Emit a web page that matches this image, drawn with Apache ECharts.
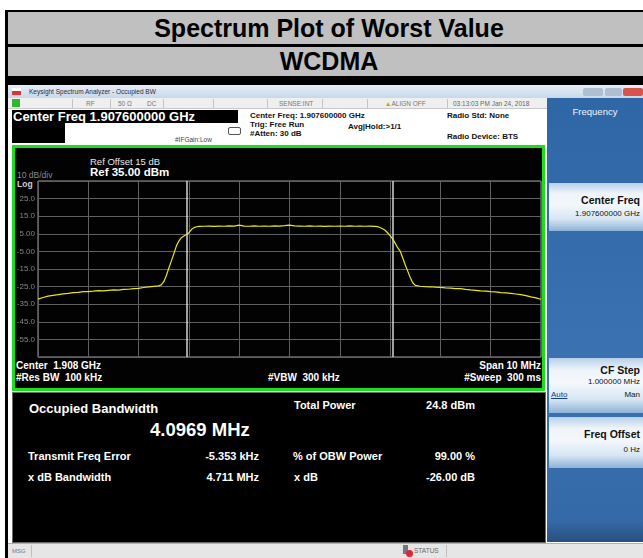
<!DOCTYPE html>
<html>
<head>
<meta charset="utf-8">
<title>Spectrum Plot of Worst Value</title>
<script src="https://cdn.jsdelivr.net/npm/echarts@6/dist/echarts.min.js"></script>
<style>
  body { margin:0; width:643px; height:558px; overflow:hidden; background:#fff; position:relative;
         font-family:"Liberation Sans", Arial, sans-serif; }
  .a { position:absolute; white-space:nowrap; line-height:1; }
  .blk { position:absolute; background:#000; }
  .row { position:absolute; left:8px; width:642px; background:#c0c0c0; font-weight:bold; color:#000;
         display:flex; align-items:center; justify-content:center; font-size:25px; }
  .w { color:#fff; font-weight:bold; }
  .sm { font-size:8px; color:#111; font-weight:bold; }
  .st { font-size:6.5px; color:#777; }
  .sep { position:absolute; top:99px; width:1px; height:9px; background:#c4c4c4; }
  .btn { position:absolute; left:549px; width:94px;
         background:linear-gradient(#b7d0e8 0%, #eef4fa 22%, #f4f8fc 45%, #d7e6f3 75%, #8db2d8 100%); }
  .bt { font-size:10.5px; font-weight:bold; color:#111; right:3px; }
  .bs { font-size:8px; color:#111; right:3px; }
</style>
</head>
<body>
<!-- report table -->
<div class="blk" style="left:5px;top:10px;width:3px;height:548px"></div>
<div class="blk" style="left:5px;top:10px;width:638px;height:2px"></div>
<div class="row" style="top:12px;height:32px">Spectrum Plot of Worst Value</div>
<div class="blk" style="left:8px;top:44px;width:635px;height:3px"></div>
<div class="row" style="top:47px;height:29px">WCDMA</div>
<div class="blk" style="left:8px;top:76px;width:635px;height:9px"></div>

<!-- analyzer window title bar -->
<div class="a" style="left:8px;top:85px;width:635px;height:13px;background:linear-gradient(#e6eef7,#c8d8ea)"></div>
<div class="a" style="left:12px;top:88px;width:9px;height:7px;background:linear-gradient(#fff 45%,#d33 45%)"></div>
<div class="a" style="left:29px;top:88.5px;font-size:6.5px;color:#2a2a3a">Keysight Spectrum Analyzer - Occupied BW</div>
<div class="a" style="left:583px;top:88px;width:20px;height:8px;background:#aebfd3;border-radius:2px"></div>
<div class="a" style="left:605px;top:88px;width:17px;height:8px;background:#aebfd3;border-radius:2px"></div>
<div class="a" style="left:623px;top:88px;width:20px;height:8px;background:#d9534a;border-radius:2px"></div>

<!-- status strip -->
<div class="a" style="left:8px;top:98px;width:540px;height:10px;background:#efefef;border-bottom:1px solid #c8c8c8"></div>
<div class="a" style="left:12px;top:99px;width:8px;height:8px;background:#2fb52f"></div>
<div class="sep" style="left:72px"></div><div class="sep" style="left:110px"></div>
<div class="sep" style="left:163px"></div><div class="sep" style="left:213px"></div>
<div class="sep" style="left:267px"></div><div class="sep" style="left:322px"></div>
<div class="sep" style="left:367px"></div><div class="sep" style="left:447px"></div>
<div class="a st" style="left:86px;top:101px">RF</div>
<div class="a st" style="left:118px;top:101px">50 Ω</div>
<div class="a st" style="left:147px;top:101px">DC</div>
<div class="a st" style="left:279px;top:101px">SENSE:INT</div>
<div class="a st" style="left:385px;top:101px"><span style="color:#c9a000">▲</span>ALIGN OFF</div>
<div class="a st" style="left:453px;top:101px;color:#666">03:13:03 PM Jan 24, 2018</div>

<!-- settings area -->
<div class="a" style="left:8px;top:109px;width:4px;height:449px;background:#fff"></div>
<div class="blk" style="left:12px;top:110px;width:226px;height:13px"></div>
<div class="blk" style="left:12px;top:123px;width:53px;height:20px"></div>
<div class="a w" style="left:13px;top:110px;font-size:13px">Center Freq 1.907600000 GHz</div>
<div class="a" style="left:175px;top:137px;font-size:6.5px;color:#444">#IFGain:Low</div>
<div class="a" style="left:228px;top:127px;width:11px;height:6px;border:1px solid #555;border-radius:2px"></div>
<div class="a sm" style="left:250px;top:111.5px">Center Freq: 1.907600000 GHz</div>
<div class="a sm" style="left:250px;top:120.5px">Trig: Free Run</div>
<div class="a sm" style="left:348px;top:122.5px">Avg|Hold:&gt;1/1</div>
<div class="a sm" style="left:250px;top:129.5px">#Atten: 30 dB</div>
<div class="a sm" style="left:447px;top:111.5px">Radio Std: None</div>
<div class="a sm" style="left:447px;top:133px">Radio Device: BTS</div>

<!-- right soft-key panel -->
<div class="a" style="left:547px;top:98px;width:96px;height:444px;background:linear-gradient(#2f66a5,#3a72b2 60%,#356aa8 95%,#28507f)"></div>
<div class="a" style="left:547px;top:107px;width:96px;text-align:center;font-size:9.5px;color:#f2f6fb">Frequency</div>
<div class="btn" style="top:183px;height:48px"></div>
<div class="a bt" style="top:195px">Center Freq</div>
<div class="a bs" style="top:210px">1.907600000 GHz</div>
<div class="btn" style="top:358px;height:55px"></div>
<div class="a bt" style="top:365px">CF Step</div>
<div class="a bs" style="top:378px">1.000000 MHz</div>
<div class="a bs" style="top:391px;left:551px;right:auto;color:#163c8c;text-decoration:underline">Auto</div>
<div class="a bs" style="top:391px">Man</div>
<div class="btn" style="top:417px;height:51px"></div>
<div class="a bt" style="top:429px">Freq Offset</div>
<div class="a bs" style="top:446px">0 Hz</div>

<!-- trace window -->
<div class="a" style="left:12px;top:145px;width:527px;height:240px;background:#020202;border:3px solid #18e018"></div>
<div class="a" style="left:90px;top:157px;font-size:9.5px;color:#e8e8e8">Ref Offset 15 dB</div>
<div class="a w" style="left:90px;top:166.5px;font-size:11.5px">Ref 35.00 dBm</div>
<div class="a" style="left:17px;top:170.5px;font-size:8.5px;color:#8a8a8a">10 dB/div</div>
<div class="a" style="left:17px;top:180px;font-size:8.5px;color:#d0d0d0;font-weight:bold">Log</div>
<div class="a w" style="left:16px;top:361px;font-size:10px">Center&nbsp; 1.908 GHz</div>
<div class="a w" style="left:16px;top:373px;font-size:10px">#Res BW&nbsp; 100 kHz</div>
<div class="a w" style="left:268px;top:373px;font-size:10px">#VBW&nbsp; 300 kHz</div>
<div class="a w" style="right:102px;top:361px;font-size:10px">Span 10 MHz</div>
<div class="a w" style="right:102px;top:373px;font-size:10px">#Sweep&nbsp; 300 ms</div>

<!-- measurement results -->
<div class="a" style="left:12px;top:392px;width:532px;height:149px;background:#000;border:1px solid #6a6a6a"></div>
<div class="a w" style="left:29px;top:402px;font-size:13px">Occupied Bandwidth</div>
<div class="a w" style="left:150px;top:421px;font-size:18.5px">4.0969 MHz</div>
<div class="a w" style="left:294px;top:400px;font-size:11px">Total Power</div>
<div class="a w" style="right:168px;top:400px;font-size:11px">24.8 dBm</div>
<div class="a w" style="left:28px;top:451px;font-size:11px">Transmit Freq Error</div>
<div class="a w" style="right:384px;top:451px;font-size:11px">-5.353 kHz</div>
<div class="a w" style="left:293px;top:451px;font-size:11px">% of OBW Power</div>
<div class="a w" style="right:168px;top:451px;font-size:11px">99.00 %</div>
<div class="a w" style="left:28px;top:472px;font-size:11px">x dB Bandwidth</div>
<div class="a w" style="right:384px;top:472px;font-size:11px">4.711 MHz</div>
<div class="a w" style="left:294px;top:472px;font-size:11px">x dB</div>
<div class="a w" style="right:168px;top:472px;font-size:11px">-26.00 dB</div>

<!-- bottom status bar -->
<div class="a" style="left:8px;top:543px;width:635px;height:15px;background:#e6e6e6;border-top:1px solid #b0b0b0"></div>
<div class="a" style="left:12px;top:548px;font-size:6px;color:#777">MSG</div>
<div class="a" style="left:31px;top:545px;width:1px;height:12px;background:#c0c0c0"></div>
<div class="a" style="left:403px;top:545px;width:5px;height:9px;background:#777"></div>
<div class="a" style="left:406px;top:550px;width:7px;height:7px;border-radius:50%;background:#e0223a"></div>
<div class="a" style="left:414px;top:548px;font-size:6.5px;color:#666">STATUS</div>
<div class="a" style="left:446px;top:545px;width:1px;height:12px;background:#c0c0c0"></div>

<div id="main" style="position:absolute;left:0;top:0;width:643px;height:558px;"></div>
<script type="text/javascript">
    // frequency offset from centre 1.908 GHz, in MHz
    var freqMHz = [
        -5.0, -4.9, -4.8, -4.7, -4.6, -4.5, -4.4, -4.3, -4.2, -4.1,
        -4.0, -3.9, -3.8, -3.7, -3.6, -3.5, -3.4, -3.3, -3.2, -3.1,
        -3.0, -2.9, -2.8, -2.7, -2.6, -2.55, -2.5, -2.45, -2.4, -2.35,
        -2.3, -2.25, -2.2, -2.15, -2.1, -2.05, -2.0, -1.95, -1.9, -1.85,
        -1.8, -1.7, -1.6, -1.5, -1.4, -1.3, -1.2, -1.1, -1.0, -0.9,
        -0.8, -0.7, -0.6, -0.5, -0.4, -0.3, -0.2, -0.1, 0.0, 0.1,
        0.2, 0.3, 0.4, 0.5, 0.6, 0.7, 0.8, 0.9, 1.0, 1.1,
        1.2, 1.3, 1.4, 1.5, 1.6, 1.7, 1.75, 1.8, 1.85, 1.9,
        1.95, 2.0, 2.05, 2.1, 2.15, 2.2, 2.25, 2.3, 2.35, 2.4,
        2.45, 2.5, 2.55, 2.6, 2.7, 2.8, 2.9, 3.0, 3.1, 3.2,
        3.3, 3.4, 3.5, 3.6, 3.7, 3.8, 3.9, 4.0, 4.1, 4.2,
        4.3, 4.4, 4.5, 4.6, 4.7, 4.8, 4.9, 5.0
    ]
    // trace level, dBm
    var levelDbm = [
        -32.1, -31.2, -30.4, -30.0, -29.6, -29.1, -28.9, -28.4, -28.3, -27.9,
        -27.8, -27.6, -27.3, -27.4, -27.1, -26.9, -27.0, -26.6, -26.5, -26.1,
        -26.0, -25.5, -25.2, -24.9, -24.6, -24.0, -22.2, -18.8, -14.6, -10.5,
        -6.4, -2.0, 0.9, 2.8, 3.8, 4.6, 5.6, 7.4, 8.5, 9.0,
        9.2, 9.3, 9.4, 9.2, 9.4, 9.3, 9.5, 9.4, 9.9, 9.4,
        9.3, 9.5, 9.3, 9.4, 9.3, 9.5, 9.4, 9.6, 9.9, 9.5,
        9.4, 9.3, 9.5, 9.3, 9.4, 9.2, 9.4, 9.3, 9.4, 9.3,
        9.5, 9.3, 9.4, 9.3, 9.4, 9.2, 9.1, 8.6, 7.9, 7.0,
        5.6, 3.9, 2.1, -0.3, -2.9, -4.8, -8.6, -12.6, -16.2, -19.8,
        -22.8, -24.3, -24.6, -24.8, -25.0, -25.1, -25.3, -25.4, -25.7, -25.9,
        -26.1, -26.2, -26.6, -26.9, -27.1, -27.4, -27.6, -27.9, -28.0, -28.4,
        -28.6, -28.9, -29.2, -29.6, -30.1, -30.8, -31.4, -32.2
    ]
    // occupied bandwidth markers (4.0969 MHz wide)
    var obwEdgesMHz = [-2.048, 2.048]
    var yTickValues = [25, 15, 5, -5, -15, -25, -35, -45, -55]
    var yTickLabels = ['25.0', '15.0', '5.00', '-5.00', '-15.0', '-25.0', '-35.0', '-45.0', '-55.0']

    var trace = freqMHz.map(function (f, i) { return [f, levelDbm[i]] })

    var myChart = echarts.init(document.getElementById('main'))
    var option = {
        animation: false,
        grid: {
            left: 38, top: 181, width: 503, height: 176,
            show: true, borderColor: '#9a9a9a', borderWidth: 1, backgroundColor: 'transparent'
        },
        xAxis: {
            type: 'value', min: -5, max: 5, interval: 1,
            axisLabel: {show: false}, axisTick: {show: false},
            axisLine: {show: false},
            splitLine: {lineStyle: {color: '#606060', width: 1}}
        },
        yAxis: {
            type: 'value', min: -65, max: 35, interval: 10,
            axisTick: {show: false}, axisLine: {show: false},
            splitLine: {lineStyle: {color: '#606060', width: 1}},
            axisLabel: {
                color: '#858585', fontSize: 8, margin: 3,
                fontFamily: 'Liberation Sans',
                formatter: function (v) {
                    var i = yTickValues.indexOf(Math.round(v))
                    return i < 0 ? '' : yTickLabels[i]
                }
            }
        },
        series: [{
            type: 'line',
            data: trace,
            showSymbol: false,
            lineStyle: {color: '#e8e817', width: 1.2},
            markLine: {
                silent: true,
                symbol: ['none', 'none'],
                label: {show: false},
                lineStyle: {color: '#d4d4d4', width: 1.5, type: 'solid'},
                data: obwEdgesMHz.map(function (x) { return {xAxis: x} })
            }
        }]
    }
    myChart.setOption(option)
</script>
</body>
</html>
